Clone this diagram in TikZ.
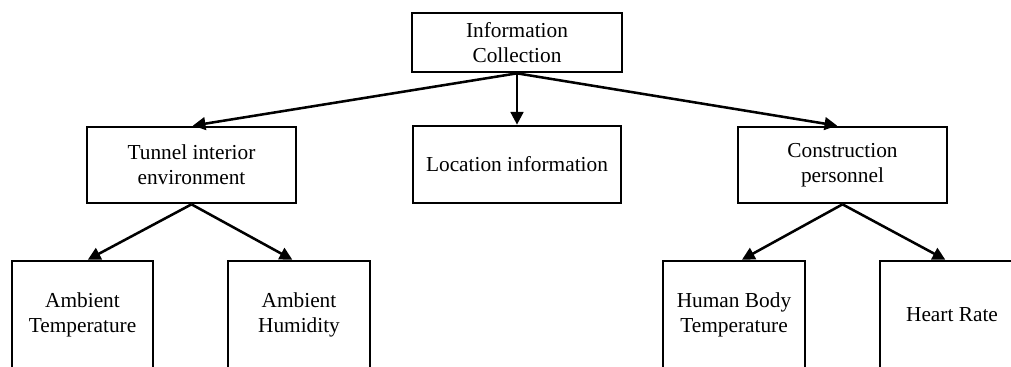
\documentclass[tikz,border=0pt]{standalone}
\usepackage{fontspec}
\setmainfont{Liberation Serif}
\usetikzlibrary{arrows.meta}
\begin{document}
\begin{tikzpicture}[x=0.75pt,y=-0.75pt,
  box/.style={draw,line width=2pt,rectangle,align=center,inner sep=0pt,
    font=\fontsize{16pt}{18.8pt}\selectfont},
  conn/.style={line width=1.9pt,-{Triangle[length=9.5pt,width=9.5pt]}}]
\useasboundingbox (0,0) rectangle (1011,367);
\clip (0,0) rectangle (1011,367);
\node[box,minimum width=157.5pt,minimum height=44.25pt] (info) at (517,42.5) {Information\\Collection};
\node[box,minimum width=156pt,minimum height=57.75pt] (loc) at (517,164.5) {Location information};
\node[box,minimum width=156.75pt,minimum height=57pt] (tunnel) at (191.5,165) {Tunnel interior\\environment};
\node[box,minimum width=156.75pt,minimum height=57pt] (constr) at (842.5,165) {Construction\\personnel};
\node[box,minimum width=105.75pt,minimum height=81pt] (ambT) at (82.5,315) {Ambient\\Temperature};
\node[box,minimum width=106.5pt,minimum height=81pt] (ambH) at (299,315) {Ambient\\Humidity};
\node[box,minimum width=106.5pt,minimum height=81pt] (human) at (734,315) {Human Body\\Temperature};
\node[box,minimum width=108pt,minimum height=81pt] (heart) at (952,315) {Heart Rate};
\draw[conn] (info.south) -- ([xshift=1pt]tunnel.north);
\draw[conn] (info.south) -- (loc.north);
\draw[conn] (info.south) -- ([xshift=-4pt]constr.north);
\draw[conn] (tunnel.south) -- ([xshift=4pt]ambT.north);
\draw[conn] (tunnel.south) -- ([xshift=-5pt]ambH.north);
\draw[conn] (constr.south) -- ([xshift=6pt]human.north);
\draw[conn] (constr.south) -- ([xshift=-5pt]heart.north);
\end{tikzpicture}
\end{document}
